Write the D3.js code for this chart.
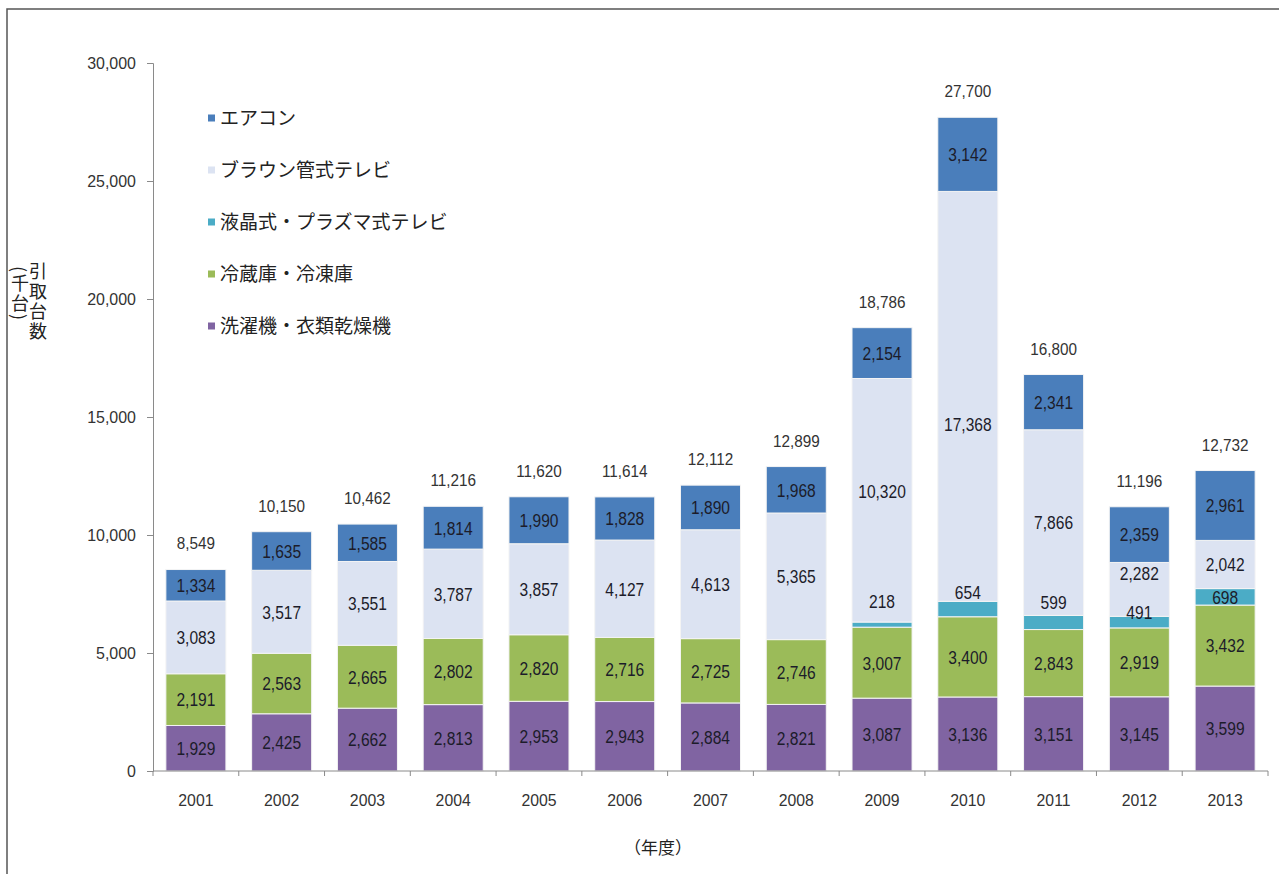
<!DOCTYPE html>
<html><head><meta charset="utf-8">
<script src="https://cdn.jsdelivr.net/npm/d3@7"></script>
<style>
html,body{margin:0;padding:0;background:#fff;}
svg{display:block;}
</style></head>
<body>
<svg id="chart" width="1279" height="874"></svg>
<script>
const years = ["2001","2002","2003","2004","2005","2006","2007","2008","2009","2010","2011","2012","2013"];
const seriesNames = ["洗濯機・衣類乾燥機","冷蔵庫・冷凍庫","液晶式・プラズマ式テレビ","ブラウン管式テレビ","エアコン"];
const washer = [1929,2425,2662,2813,2953,2943,2884,2821,3087,3136,3151,3145,3599];
const fridge = [2191,2563,2665,2802,2820,2716,2725,2746,3007,3400,2843,2919,3432];
const lcdTv  = [0,0,0,0,0,0,0,0,218,654,599,491,698];
const crtTv  = [3083,3517,3551,3787,3857,4127,4613,5365,10320,17368,7866,2282,2042];
const aircon = [1334,1635,1585,1814,1990,1828,1890,1968,2154,3142,2341,2359,2961];
const totals = [8549,10150,10462,11216,11620,11614,12112,12899,18786,27700,16800,11196,12732];
const yTicks = [0,5000,10000,15000,20000,25000,30000];
const legendOrder = ["エアコン","ブラウン管式テレビ","液晶式・プラズマ式テレビ","冷蔵庫・冷凍庫","洗濯機・衣類乾燥機"];
const colors = {"洗濯機・衣類乾燥機":"#8064a2","冷蔵庫・冷凍庫":"#9bbb59","液晶式・プラズマ式テレビ":"#4bacc6","ブラウン管式テレビ":"#dce3f2","エアコン":"#4a7ebb"};

const seriesValues = [washer, fridge, lcdTv, crtTv, aircon];
const table = years.map((y,i)=>{const o={year:y}; seriesNames.forEach((s,k)=>o[s]=seriesValues[k][i]); return o;});

// label nudges (pixels) where the original moved labels off centre
const nudge = {"液晶式・プラズマ式テレビ|2009":-23,"液晶式・プラズマ式テレビ|2010":-17,"液晶式・プラズマ式テレビ|2011":-20,"液晶式・プラズマ式テレビ|2012":-10,
  "ブラウン管式テレビ|2012":-16,"ブラウン管式テレビ|2009":-9,"ブラウン管式テレビ|2010":28};

const svg = d3.select("#chart");
const x = d3.scaleBand().domain(years).range([153,1268]).paddingInner(0.3).paddingOuter(0.15);
const y = d3.scaleLinear().domain([0,30000]).range([771,63]);
const fmt = d3.format(",");
const latin = "'Liberation Sans',Arial,sans-serif";

// frame
svg.append("path").attr("d","M7,874V9H1279").attr("fill","none").attr("stroke","#555").attr("stroke-width",1.5);

const stack = d3.stack().keys(seriesNames)(table);
const g = svg.append("g");
stack.forEach(layer=>{
  g.selectAll(null).data(layer).join("rect")
   .attr("x",d=>x(d.data.year)).attr("width",x.bandwidth())
   .attr("y",d=>y(d[1])).attr("height",d=>y(d[0])-y(d[1]))
   .attr("fill",colors[layer.key]).attr("stroke","#f4f4f4").attr("stroke-width",1);
});

// axes
const axisColor = "#8a8a8a";
const yAxis = svg.append("g").attr("transform","translate(153,0)")
  .call(d3.axisLeft(y).tickValues(yTicks).tickSize(6).tickPadding(11).tickFormat(fmt));
yAxis.select(".domain").attr("stroke",axisColor);
yAxis.selectAll(".tick line").attr("stroke",axisColor);
yAxis.selectAll(".tick text").attr("font-family",latin).attr("font-size",17).attr("fill","#333")
  .attr("x",0).attr("transform","translate(-17,0) scale(0.94,1)");

const xAxis = svg.append("g").attr("transform","translate(0,771)")
  .call(d3.axisBottom(x).tickSize(0).tickPadding(23));
xAxis.select(".domain").attr("stroke",axisColor).attr("d","M153,0H1268");
xAxis.selectAll(".tick text").attr("font-family",latin).attr("font-size",17).attr("fill","#333")
  .attr("transform","scale(0.93,1)");
const step = x.step();
d3.range(years.length+1).forEach(i=>{
  const bx = x(years[0]) - step*x.paddingOuter() + i*step;
  xAxis.append("line").attr("x1",bx).attr("x2",bx).attr("y1",0).attr("y2",5).attr("stroke",axisColor);
});

// segment labels
stack.forEach(layer=>{
  layer.forEach(d=>{
    const v = d[1]-d[0];
    if(v<=0) return;
    const cy = (y(d[0])+y(d[1]))/2 + (nudge[layer.key+"|"+d.data.year]||0);
    const cx = x(d.data.year)+x.bandwidth()/2;
    svg.append("text").attr("transform",`translate(${cx},${cy}) scale(0.82,1)`)
      .attr("text-anchor","middle").attr("dy","0.36em")
      .attr("font-family",latin).attr("font-size",19).attr("fill","#1c1c2a").text(fmt(v));
  });
});

// totals
years.forEach((yr,i)=>{
  const cx = x(yr)+x.bandwidth()/2, cy = y(totals[i])-26;
  svg.append("text").attr("transform",`translate(${cx},${cy}) scale(0.9,1)`)
    .attr("text-anchor","middle").attr("dy","0.36em")
    .attr("font-family",latin).attr("font-size",17).attr("fill","#333").text(fmt(totals[i]));
});

// legend
const cjk = "'Noto Sans CJK JP','Noto Sans CJK SC',sans-serif";
legendOrder.forEach((s,i)=>{
  const ly = 118 + i*52;
  svg.append("rect").attr("x",208).attr("y",ly-3.5).attr("width",7).attr("height",7).attr("fill",colors[s]);
  svg.append("text").attr("x",220).attr("y",ly).attr("dy","0.36em").attr("font-family",cjk)
    .attr("font-size",19).attr("fill","#222").text(s);
});

// axis titles
svg.append("text").attr("x",38).attr("y",262).attr("font-family",cjk).attr("font-size",18).attr("fill","#222")
  .style("writing-mode","vertical-rl").attr("letter-spacing",2).text("引取台数");
svg.append("text").attr("x",20).attr("y",266).attr("font-family",cjk).attr("font-size",18).attr("fill","#222")
  .style("writing-mode","vertical-rl").attr("letter-spacing",2).text("(千台)");
svg.append("text").attr("x",658).attr("y",848).attr("dy","0.36em").attr("text-anchor","middle").attr("font-family",cjk)
  .attr("font-size",17).attr("fill","#222").text("（年度）");
</script>
</body></html>
